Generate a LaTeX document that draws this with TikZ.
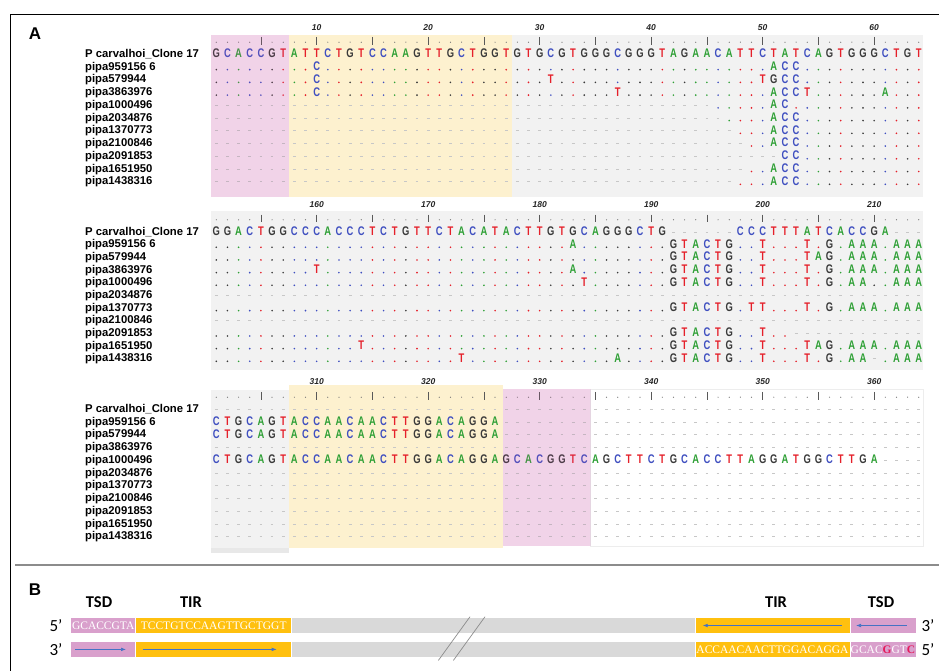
\documentclass[tikz,border=0pt]{standalone}
\usepackage{fontspec}
\setmainfont{Liberation Sans}
\newfontfamily\seqfont[FakeStretch=0.75]{Liberation Sans}
\newfontfamily\serfont{Liberation Serif}
\newfontfamily\calfont{Carlito}
\usetikzlibrary{arrows.meta}
\ExplSyntaxOn
\cs_new:Npn \Rep #1#2 { \prg_replicate:nn {#1} {#2} }
\ExplSyntaxOff
\definecolor{sqA}{HTML}{2FA036}
\definecolor{sqC}{HTML}{3F4FC0}
\definecolor{sqG}{HTML}{3A3A3A}
\definecolor{sqT}{HTML}{E5202A}
\definecolor{bgpink}{RGB}{251,234,245}
\definecolor{pinktint}{RGB}{190,80,160}
\definecolor{bgyel}{HTML}{FDF1CF}
\definecolor{bggray}{HTML}{F2F2F2}
\definecolor{Bpink}{HTML}{D9A0CC}
\definecolor{Byel}{HTML}{FFC00F}
\definecolor{Bgray}{HTML}{D9D9D9}
\definecolor{Bblue}{HTML}{4472C4}
\definecolor{Bred}{HTML}{E6195A}
\makeatletter
\newcount\sq@col
\newcount\sq@uid
\def\sq@setref#1{\ifx#1\relax\else
  \global\advance\sq@col by 1
  \expandafter\xdef\csname sqref@\the\sq@col\endcsname{#1}%
  \expandafter\sq@setref\fi}
\newcommand\SetRef[1]{\global\sq@col=0 \edef\sq@tmp{#1}\expandafter\sq@setref\sq@tmp\relax}
\newcommand\SeqRow[2]{\pgfmathsetmacro\sq@y{#1}\global\sq@col=0 \edef\sq@tmp{#2}\expandafter\sq@row\sq@tmp\relax}
\def\sq@row#1{\ifx#1\relax\else
  \global\advance\sq@col by 1
  \sq@cell#1%
  \expandafter\sq@row\fi}
\def\sq@cell#1{%
  \pgfmathsetmacro\sq@x{216.3+(\the\sq@col-1)*11.15}%
  \global\advance\sq@uid by 1
  \ifx#1.%
    \edef\sq@r{\csname sqref@\the\sq@col\endcsname}%
    \fill[sq\sq@r] (\sq@x,\sq@y+3.6) circle (0.9pt);%
  \else\ifx#1-%
    \draw[gapdash] (\sq@x-1.4,\sq@y+1) -- (\sq@x+1.4,\sq@y+1);%
  \else
    \node[seqch,text=sq#1] (q\the\sq@uid) at (\sq@x,\sq@y+4.5) {#1};%
  \fi\fi}
\makeatother
\newcommand\TickRow[3]{%
  \foreach \k in {1,...,64}{%
    \pgfmathtruncatemacro\pos{#3+\k-1}%
    \pgfmathsetmacro\tx{216.3+(\k-1)*11.15}%
    \pgfmathtruncatemacro\mfive{mod(\pos,5)}%
    \pgfmathtruncatemacro\mten{mod(\pos,10)}%
    \ifnum\mfive=0 \draw[tickc] (\tx,#1-3.8) -- (\tx,#1+3.8);\else\fill[tickdot] (\tx,#1+1.5) circle (0.6pt);\fi
    \ifnum\mten=0 \node[numlab] (n\pos) at (\tx,#2) {\pos};\fi
  }}
\newcommand\RowLabels[2]{%
  \foreach \lab [count=\i from 0] in {P carvalhoi\_Clone 17,pipa959156 6,pipa579944,pipa3863976,pipa1000496,pipa2034876,pipa1370773,pipa2100846,pipa2091853,pipa1651950,pipa1438316}{%
    \pgfmathsetmacro\ly{#1+\i*#2+4.2}%
    \node[rowlab] (lab#1-\i) at (85,\ly) {\lab};
  }}
\begin{document}
\begin{tikzpicture}[x=1pt,y=-1pt,
  seqch/.style={anchor=base,inner sep=0pt,font=\seqfont\bfseries\fontsize{12.5}{12.5}\selectfont},
  gapdash/.style={draw=black!22,line width=0.9pt},
  tickc/.style={draw=black!65,line width=0.7pt},
  tickdot/.style={fill=black!55},
  numlab/.style={inner sep=0pt,font=\bfseries\itshape\fontsize{8.5}{8.5}\selectfont,text=black!85},
  rowlab/.style={anchor=base west,inner sep=0pt,font=\bfseries\fontsize{11.3}{11.3}\selectfont},
  panlab/.style={inner sep=0pt,font=\bfseries\fontsize{17}{17}\selectfont},
  bx/.style={draw=white,line width=0.6pt,inner sep=0pt,minimum height=15.6pt},
  bseq/.style={font=\serfont\fontsize{11.5}{11.5}\selectfont,text=white},
  bhead/.style={inner sep=0pt,font=\calfont\bfseries\fontsize{16.5}{16.5}\selectfont},
  strandend/.style={inner sep=0pt,font=\calfont\fontsize{17}{17}\selectfont},
  barrow/.style={draw=Bblue,line width=0.6pt,-{Latex[length=5pt,width=3.6pt]}},
  brk/.style={draw=black!45,line width=0.7pt},
  tint/.style={fill=pinktint,fill opacity=0.15}]
\useasboundingbox (0,0) rectangle (939,670);
\fill[white] (0,0) rectangle (939,670);
% frame
\draw[line width=0.9pt] (10,672) -- (10,14) -- (941,14);
\draw[black!45,line width=1.2pt] (15,565) -- (941,565);
\node[panlab] (labA) at (35,34) {A};
\node[panlab] (labB) at (35,590) {B};
% ---------- block 1 backgrounds
\fill[bgpink] (211,35) rectangle (288.8,197);
\fill[bgyel] (288.8,35) rectangle (511.8,197);
\fill[bggray] (511.8,35) rectangle (923,197);
% ---------- block 2 backgrounds
\fill[bggray] (211,211) rectangle (923,370);
% ---------- block 3 backgrounds
\fill[bggray] (211,390) rectangle (288.8,553);
\fill[black!9] (211,548) rectangle (288.8,553);
\fill[bgyel] (288.8,385) rectangle (502.7,548);
\fill[bgpink] (502.7,389) rectangle (590.5,546);
\draw[draw=black!7,fill=white] (590.5,389) rectangle (923,546);
% ================= block 1
\RowLabels{53.3}{12.74}
\TickRow{40.7}{28}{1}
\SetRef{GCACCGTATTCTGTCCAAGTTGCTGGTGTGCGTGGGCGGGTAGAACATTCTATCAGTGGGCTGT}
\SeqRow{53.3}{GCACCGTATTCTGTCCAAGTTGCTGGTGTGCGTGGGCGGGTAGAACATTCTATCAGTGGGCTGT}
\SeqRow{53.3+1*12.74}{\Rep{9}{.}C\Rep{40}{.}ACC\Rep{11}{.}}
\SeqRow{53.3+2*12.74}{\Rep{9}{.}C\Rep{20}{.}T\Rep{18}{.}TGCC\Rep{11}{.}}
\SeqRow{53.3+3*12.74}{\Rep{9}{.}C\Rep{26}{.}T\Rep{13}{.}ACCT\Rep{6}{.}A\Rep{3}{.}}
\SeqRow{53.3+4*12.74}{\Rep{45}{-}\Rep{5}{.}AC\Rep{12}{.}}
\SeqRow{53.3+5*12.74}{\Rep{46}{-}\Rep{4}{.}ACC\Rep{11}{.}}
\SeqRow{53.3+6*12.74}{\Rep{47}{-}\Rep{3}{.}ACC\Rep{11}{.}}
\SeqRow{53.3+7*12.74}{\Rep{48}{-}\Rep{2}{.}ACC\Rep{11}{.}}
\SeqRow{53.3+8*12.74}{\Rep{51}{-}CC\Rep{11}{.}}
\SeqRow{53.3+9*12.74}{\Rep{48}{-}\Rep{2}{.}ACC\Rep{11}{.}}
\SeqRow{53.3+10*12.74}{\Rep{47}{-}\Rep{3}{.}ACC\Rep{11}{.}}
\fill[tint] (211,35) rectangle (288.8,197);
% ================= block 2
\RowLabels{231}{12.67}
\TickRow{218.3}{205}{151}
\SetRef{GGACTGGCCCACCCTCTGTTCTACATACTTGTGCAGGGCTG------CCCTTTATCACCGA---}
\SeqRow{231}{GGACTGGCCCACCCTCTGTTCTACATACTTGTGCAGGGCTG------CCCTTTATCACCGA---}
\SeqRow{231+1*12.67}{\Rep{32}{.}A\Rep{8}{.}GTACTG..T...T.G.AAA.AAA}
\SeqRow{231+2*12.67}{\Rep{41}{.}GTACTG..T...TAG.AAA.AAA}
\SeqRow{231+3*12.67}{\Rep{9}{.}T\Rep{22}{.}A\Rep{8}{.}GTACTG..T...T.G.AAA.AAA}
\SeqRow{231+4*12.67}{\Rep{33}{.}T\Rep{7}{.}GTACTG..T...T.G.AA..AAA}
\SeqRow{231+5*12.67}{\Rep{64}{-}}
\SeqRow{231+6*12.67}{\Rep{41}{.}GTACTG.TT...T.G.AAA.AAA}
\SeqRow{231+7*12.67}{\Rep{64}{-}}
\SeqRow{231+8*12.67}{\Rep{41}{.}GTACTG..T..\Rep{12}{-}}
\SeqRow{231+9*12.67}{\Rep{13}{.}T\Rep{27}{.}GTACTG..T...TAG.AAA.AAA}
\SeqRow{231+10*12.67}{\Rep{22}{.}T\Rep{13}{.}A\Rep{4}{.}GTACTG..T...T.G.AA-.AAA}
% ================= block 3
\RowLabels{408.3}{12.74}
\TickRow{395.7}{382}{301}
\SetRef{\Rep{64}{-}}
\SeqRow{408.3}{\Rep{64}{-}}
\SeqRow{408.3+1*12.74}{CTGCAGTACCAACAACTTGGACAGGA\Rep{38}{-}}
\SeqRow{408.3+2*12.74}{CTGCAGTACCAACAACTTGGACAGGA\Rep{38}{-}}
\SeqRow{408.3+3*12.74}{\Rep{64}{-}}
\SeqRow{408.3+4*12.74}{CTGCAGTACCAACAACTTGGACAGGAGCACGGTCAGCTTCTGCACCTTAGGATGGCTTGA\Rep{4}{-}}
\SeqRow{408.3+5*12.74}{\Rep{64}{-}}
\SeqRow{408.3+6*12.74}{\Rep{64}{-}}
\SeqRow{408.3+7*12.74}{\Rep{64}{-}}
\SeqRow{408.3+8*12.74}{\Rep{64}{-}}
\SeqRow{408.3+9*12.74}{\Rep{64}{-}}
\SeqRow{408.3+10*12.74}{\Rep{64}{-}}
\fill[tint] (502.7,389) rectangle (590.5,546);
% ================= panel B
\node[bhead] (tsdl) at (99,602) {TSD};
\node[bhead] (tirl) at (191,602) {TIR};
\node[bhead] (tirr) at (776,602) {TIR};
\node[bhead] (tsdr) at (881,602) {TSD};
\node[strandend] (e1) at (56,625.5) {5’};
\node[strandend] (e2) at (56,649.4) {3’};
\node[strandend] (e3) at (928,625.5) {3’};
\node[strandend] (e4) at (928,649.4) {5’};
% row 1
\node[bx,fill=Bpink,minimum width=65pt,bseq] (p1) at (103.2,625.5) {GCACCGTA};
\node[bx,fill=Byel,minimum width=156pt,bseq] (y1) at (213.7,625.5) {TCCTGTCCAAGTTGCTGGT};
\node[bx,fill=Bgray,minimum width=403.3pt] (g1) at (493.35,625.5) {};
\node[bx,fill=Byel,minimum width=155pt] (y2) at (772.5,625.5) {};
\node[bx,fill=Bpink,minimum width=66pt] (p2) at (883,625.5) {};
% row 2
\node[bx,fill=Bpink,minimum width=65pt,minimum height=15.8pt] (p3) at (103.2,649.4) {};
\node[bx,fill=Byel,minimum width=156pt,minimum height=15.8pt] (y3) at (213.7,649.4) {};
\node[bx,fill=Bgray,minimum width=403.3pt,minimum height=15.8pt] (g2) at (493.35,649.4) {};
\node[bx,fill=Byel,minimum width=155pt,minimum height=15.8pt,bseq] (y4) at (772.5,649.4) {ACCAACAACTTGGACAGGA};
\node[bx,fill=Bpink,minimum width=66pt,minimum height=15.8pt,bseq] (p4) at (883,649.4) {GCAC\textbf{\textcolor{Bred}{G}}GT\textbf{\textcolor{Bred}{C}}};
% arrows
\coordinate (a1s) at (75,649.4); \coordinate (a1e) at (126,649.4);
\coordinate (a2s) at (142.7,649.4); \coordinate (a2e) at (276.7,649.4);
\coordinate (a3s) at (841.7,625.5); \coordinate (a3e) at (702.7,625.5);
\coordinate (a4s) at (906.7,625.5); \coordinate (a4e) at (856,625.5);
\draw[barrow] (a1s) -- (a1e);
\draw[barrow] (a2s) -- (a2e);
\draw[barrow] (a3s) -- (a3e);
\draw[barrow] (a4s) -- (a4e);
% break marks
\coordinate (k1a) at (438.3,660.5); \coordinate (k1b) at (470,616.7);
\coordinate (k2a) at (453.3,660.5); \coordinate (k2b) at (485,616.7);
\draw[brk] (k1a) -- (k1b);
\draw[brk] (k2a) -- (k2b);
\end{tikzpicture}
\end{document}
